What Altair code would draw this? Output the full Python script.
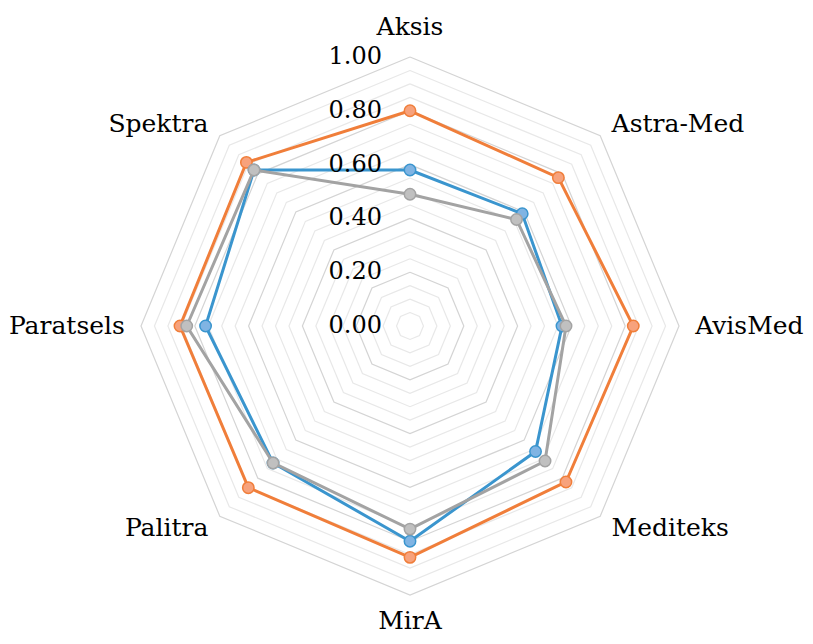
import math
import altair as alt
import pandas as pd

categories = ["Aksis", "Astra-Med", "AvisMed", "Mediteks", "MirA", "Palitra", "Paratsels", "Spektra"]
series_names = ["Series A", "Series B", "Series C"]
orange_vals = [0.80, 0.78, 0.83, 0.82, 0.86, 0.85, 0.855, 0.86]
blue_vals = [0.58, 0.59, 0.565, 0.66, 0.80, 0.72, 0.76, 0.82]
gray_vals = [0.49, 0.56, 0.58, 0.71, 0.755, 0.72, 0.83, 0.82]
tick_values = [0.0, 0.2, 0.4, 0.6, 0.8, 1.0]
tick_labels = ["0.00", "0.20", "0.40", "0.60", "0.80", "1.00"]
grid_levels = [round(0.05 * i, 2) for i in range(1, 21)]

line_colors = ["#F07E3A", "#3A95CE", "#A3A3A3"]
fill_colors = ["#F7A27C", "#80B4E3", "#C0C0C0"]

FONT = "DejaVu Serif"

n = len(categories)
angles = [2 * math.pi * i / n for i in range(n)]

CX, CY, R = 402, 318, 269
xs = alt.Scale(domain=[-1, 1], range=[CX - R, CX + R])
ys = alt.Scale(domain=[-1, 1], range=[CY + R, CY - R])

def enc(**kw):
    return dict(
        x=alt.X("x:Q", scale=xs, axis=None),
        y=alt.Y("y:Q", scale=ys, axis=None),
        **kw,
    )

grid_rows = []
for lv in grid_levels:
    major = abs(lv / 0.2 - round(lv / 0.2)) < 1e-6
    for k in range(n + 1):
        a = angles[k % n]
        grid_rows.append({"level": lv, "k": k, "x": lv * math.sin(a), "y": lv * math.cos(a),
                          "major": "major" if major else "minor"})
grid_df = pd.DataFrame(grid_rows)
grid = alt.Chart(grid_df).mark_line(strokeWidth=1.2).encode(
    **enc(
        detail="level:N",
        order="k:Q",
        color=alt.Color("major:N", scale=alt.Scale(domain=["major", "minor"], range=["#d4d4d4", "#e8e8e8"]), legend=None),
    )
)

layers = [grid]
for name, vals, lc, fc in zip(series_names, [orange_vals, blue_vals, gray_vals], line_colors, fill_colors):
    rows = []
    for k in range(n + 1):
        a = angles[k % n]
        v = vals[k % n]
        rows.append({"series": name, "cat": categories[k % n], "k": k, "v": v,
                     "x": v * math.sin(a), "y": v * math.cos(a)})
    df = pd.DataFrame(rows)
    line = alt.Chart(df).mark_line(color=lc, strokeWidth=3).encode(**enc(order="k:Q"))
    pts = alt.Chart(df[df.k < n]).mark_point(
        shape="circle", filled=True, fill=fc, stroke=lc, strokeWidth=1.5, size=130, opacity=1
    ).encode(**enc())
    layers += [line, pts]

tick_df = pd.DataFrame({"x": [0.0] * len(tick_values), "y": tick_values, "label": tick_labels})
ticks = alt.Chart(tick_df).mark_text(
    align="right", baseline="middle", dx=-28, font=FONT, fontSize=24, color="#000000"
).encode(**enc(text="label:N"))
layers.append(ticks)

lab_rows = []
for c, a in zip(categories, angles):
    s, co = math.sin(a), math.cos(a)
    if co > 0.9:
        kind, r = "top", 1.0
    elif co < -0.9:
        kind, r = "bottom", 1.0
    elif s > 0:
        kind, r = "left", 1.06
    else:
        kind, r = "right", 1.06
    lab_rows.append({"label": c, "x": r * s, "y": r * co, "kind": kind})
lab_df = pd.DataFrame(lab_rows)
styles = {
    "top": dict(align="center", baseline="alphabetic", dy=-22),
    "bottom": dict(align="center", baseline="alphabetic", dy=34),
    "left": dict(align="left", baseline="middle"),
    "right": dict(align="right", baseline="middle"),
}
for kind, st in styles.items():
    sub = lab_df[lab_df.kind == kind]
    layers.append(
        alt.Chart(sub).mark_text(font=FONT, fontSize=25, color="#000000", **st).encode(**enc(text="label:N"))
    )

chart = alt.layer(*layers).properties(
    width=797, height=628, autosize=alt.AutoSizeParams(type="none"), padding=0
).configure_view(strokeWidth=0)

chart.save("out.html", embed_options={"renderer": "svg", "actions": False})
